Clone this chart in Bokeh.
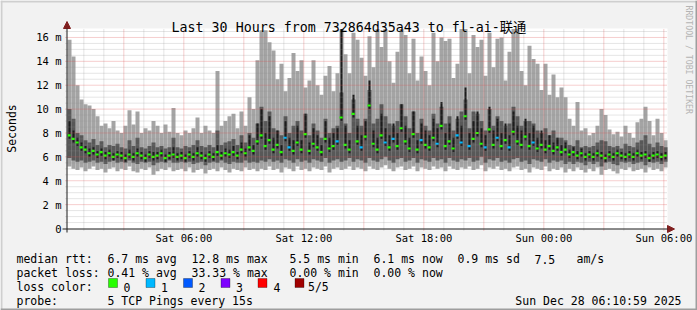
import math
from bokeh.plotting import figure
from bokeh.models import (ColumnDataSource, FixedTicker, Label, BoxAnnotation,
                          Arrow, NormalHead, Range1d, LinearAxis)
from bokeh.embed import file_html
from bokeh.resources import INLINE

# ---------------- data ----------------
T_START = 11 / 60.0          # Sat 00:11 (hours since Sat 00:00)
STEP = 0.2                   # 12 minutes per column
SPAN_H = 30                  # hours shown
Y_MAX = 16.75                # top of the value axis (ms)

hi = [15.8, 14.4, 12.0, 10.8, 10.4, 10.3, 10.0, 9.4, 8.6, 8.8,
      8.4, 9.0, 8.2, 8.0, 8.6, 9.9, 8.7, 9.8, 8.0, 8.4,
      8.2, 9.0, 8.6, 8.0, 8.7, 8.1, 10.1, 8.0, 7.8, 8.2,
      8.0, 8.4, 9.3, 8.0, 8.6, 8.2, 8.0, 13.2, 8.6, 9.0,
      9.4, 9.6, 8.4, 9.8, 8.6, 11.0, 10.0, 14.1, 16.6, 16.6,
      15.6, 14.9, 12.5, 13.8, 11.5, 12.6, 14.7, 13.2, 14.1, 11.8,
      12.4, 14.1, 12.0, 11.2, 12.8, 13.6, 11.5, 13.0, 16.7, 14.6,
      13.0, 16.4, 15.8, 14.3, 12.8, 16.1, 13.5, 16.7, 15.2, 16.7,
      14.0, 12.2, 14.8, 16.7, 16.2, 13.0, 15.9, 12.4, 14.4, 13.2,
      12.0, 16.4, 14.0, 16.0, 15.7, 15.9, 12.6, 13.8, 16.7, 16.7,
      13.0, 16.2, 15.2, 15.8, 12.8, 16.4, 13.5, 15.9, 16.0, 12.4,
      14.8, 16.7, 16.7, 13.2, 12.0, 15.3, 14.2, 13.8, 11.6, 13.8,
      11.2, 12.9, 11.0, 11.8, 11.0, 9.2, 8.6, 10.6, 8.2, 8.4,
      7.8, 8.0, 8.6, 10.0, 9.5, 8.3, 7.9, 8.1, 7.7, 8.6,
      8.0, 7.6, 8.9, 9.2, 10.2, 9.0, 7.8, 9.2, 8.0, 7.4]

lo = [5.2, 5.0, 4.9, 5.1, 4.8, 5.0, 5.2, 4.9, 5.0, 4.7,
      5.0, 5.1, 4.8, 5.0, 4.9, 5.2, 4.8, 4.7, 5.0, 4.9,
      5.1, 4.5, 4.8, 5.0, 4.9, 5.1, 4.8, 4.9, 5.0, 4.8,
      5.1, 4.7, 4.9, 5.0, 4.6, 4.9, 5.0, 4.8, 5.1, 4.9,
      4.7, 5.0, 4.9, 4.8, 5.1, 4.9, 5.0, 4.8, 5.0, 4.9,
      5.2, 4.9, 5.0, 4.7, 5.1, 5.0, 4.8, 5.2, 4.9, 5.0,
      4.8, 5.1, 5.0, 4.9, 5.2, 4.7, 5.0, 5.1, 4.9, 5.0,
      5.2, 4.9, 5.1, 5.0, 4.8, 5.2, 5.0, 4.9, 5.1, 5.3,
      5.0, 4.8, 5.1, 5.2, 4.9, 5.0, 5.2, 4.8, 5.1, 5.0,
      4.9, 5.2, 5.0, 5.1, 4.8, 5.2, 5.0, 4.9, 5.1, 5.0,
      5.2, 4.9, 5.0, 5.3, 4.8, 5.1, 5.0, 5.2, 4.9, 5.0,
      4.8, 5.1, 5.2, 4.9, 5.0, 4.7, 5.1, 5.0, 4.9, 5.2,
      4.8, 5.0, 4.9, 5.1, 4.7, 5.0, 4.8, 5.1, 4.9, 4.7,
      5.0, 4.8, 5.1, 4.5, 4.9, 5.0, 4.8, 4.6, 5.0, 4.9,
      5.1, 4.8, 4.9, 5.0, 4.7, 5.1, 4.9, 5.0, 4.8, 5.1]

q1 = [5.9, 5.7, 5.6, 5.7, 5.5, 5.6, 5.7, 5.5, 5.6, 5.4,
      5.6, 5.7, 5.5, 5.6, 5.5, 5.7, 5.5, 5.4, 5.6, 5.5,
      5.6, 5.3, 5.5, 5.6, 5.5, 5.7, 5.5, 5.5, 5.6, 5.5,
      5.6, 5.4, 5.5, 5.6, 5.3, 5.5, 5.6, 5.5, 5.7, 5.5,
      5.4, 5.6, 5.5, 5.5, 5.7, 5.5, 5.6, 5.5, 5.7, 5.6,
      5.8, 5.6, 5.7, 5.5, 5.8, 5.7, 5.5, 5.8, 5.6, 5.7,
      5.5, 5.8, 5.7, 5.6, 5.9, 5.5, 5.7, 5.8, 5.6, 5.7,
      5.9, 5.6, 5.8, 5.7, 5.5, 5.9, 5.7, 5.6, 5.8, 6.0,
      5.7, 5.5, 5.8, 5.9, 5.6, 5.7, 5.9, 5.5, 5.8, 5.7,
      5.6, 5.9, 5.7, 5.8, 5.5, 5.9, 5.7, 5.6, 5.8, 5.7,
      5.9, 5.6, 5.7, 6.0, 5.5, 5.8, 5.7, 5.9, 5.6, 5.7,
      5.5, 5.8, 5.9, 5.6, 5.7, 5.4, 5.8, 5.7, 5.6, 5.8,
      5.5, 5.7, 5.6, 5.7, 5.4, 5.6, 5.4, 5.6, 5.5, 5.3,
      5.6, 5.4, 5.6, 5.2, 5.5, 5.6, 5.4, 5.3, 5.6, 5.5,
      5.6, 5.4, 5.5, 5.6, 5.3, 5.6, 5.5, 5.6, 5.4, 5.6]

med = [7.8, 7.5, 7.2, 6.8, 6.6, 6.3, 6.5, 6.2, 6.4, 6.1,
       6.3, 6.0, 6.2, 6.1, 5.9, 6.2, 6.0, 6.3, 6.1, 5.9,
       6.2, 6.0, 6.1, 6.3, 5.9, 6.1, 6.2, 6.0, 6.1, 5.9,
       6.2, 6.0, 6.3, 6.1, 5.9, 6.2, 6.0, 6.4, 6.1, 6.3,
       6.2, 6.4, 6.1, 6.6, 6.3, 6.8, 6.5, 7.3, 7.8, 6.9,
       7.4, 6.6, 7.0, 6.4, 7.6, 6.8, 6.5, 7.2, 6.6, 7.9,
       6.5, 7.1, 6.8, 6.4, 7.5, 6.7, 6.9, 7.3, 9.3, 7.0,
       6.6, 9.6, 7.3, 6.8, 7.7, 10.3, 7.1, 6.6, 7.8, 7.2,
       6.8, 7.5, 6.9, 8.4, 7.3, 6.7, 7.9, 6.6, 7.4, 7.0,
       6.8, 7.6, 7.1, 8.6, 6.9, 7.3, 6.7, 7.8, 7.2, 9.4,
       6.9, 7.5, 8.0, 7.1, 6.8, 8.3, 7.0, 7.6, 6.9, 7.4,
       6.8, 8.1, 7.3, 7.0, 7.7, 6.9, 7.2, 6.7, 7.0, 6.6,
       6.9, 6.5, 6.8, 6.4, 6.6, 6.2, 6.4, 6.1, 6.3, 6.0,
       6.2, 6.0, 6.3, 6.1, 5.9, 6.2, 6.0, 6.3, 6.1, 6.0,
       6.2, 6.0, 6.3, 6.1, 6.2, 5.9, 6.1, 6.2, 6.0, 6.1]

q3 = [10.0, 9.2, 8.0, 7.8, 7.4, 7.2, 7.5, 7.0, 7.3, 6.8,
      7.0, 6.9, 7.1, 6.8, 6.7, 7.4, 6.9, 7.6, 6.8, 6.7,
      6.9, 7.2, 6.8, 6.9, 6.7, 6.8, 7.6, 6.8, 6.7, 6.9,
      6.8, 7.0, 7.4, 6.9, 6.8, 7.0, 6.8, 8.2, 7.0, 7.2,
      7.3, 7.5, 7.0, 7.8, 7.2, 8.0, 7.6, 8.8, 10.2, 9.0,
      9.8, 8.4, 8.2, 7.8, 9.4, 8.0, 8.6, 9.0, 8.2, 9.6,
      7.8, 8.8, 8.2, 7.6, 9.2, 8.0, 8.4, 8.6, 11.4, 8.8,
      8.0, 10.8, 9.2, 8.6, 9.2, 11.6, 8.8, 9.2, 10.4, 9.4,
      8.8, 8.6, 9.0, 10.4, 9.4, 8.4, 9.8, 8.0, 9.2, 8.6,
      8.2, 9.6, 8.8, 10.2, 8.8, 9.4, 8.2, 9.2, 9.8, 10.8,
      8.4, 9.8, 9.6, 9.0, 8.2, 10.0, 8.6, 9.4, 9.0, 8.6,
      8.8, 10.2, 9.4, 8.6, 9.0, 9.0, 8.8, 8.2, 8.0, 8.4,
      7.8, 8.2, 7.6, 7.6, 7.4, 7.0, 6.9, 7.4, 6.8, 6.9,
      6.8, 6.9, 7.2, 7.4, 7.3, 6.9, 6.8, 6.9, 6.7, 7.1,
      6.9, 6.8, 7.2, 7.4, 7.8, 7.1, 6.8, 7.2, 6.9, 6.8]

blk = [9.0, 8.2, 7.6, 7.2, 6.9, 6.7, 6.8, 6.5, 6.7, 6.4,
       6.6, 6.3, 6.5, 6.4, 6.2, 6.6, 6.3, 6.7, 6.4, 6.2,
       6.5, 6.4, 6.4, 6.6, 6.2, 6.4, 6.8, 6.3, 6.4, 6.2,
       6.5, 6.3, 6.8, 6.4, 6.2, 6.5, 6.3, 7.0, 6.4, 6.7,
       6.6, 6.9, 6.4, 7.2, 6.7, 7.8, 7.0, 8.8, 10.0, 8.0,
       9.4, 7.6, 8.2, 7.0, 9.0, 7.6, 7.4, 8.6, 7.4, 9.6,
       7.2, 8.4, 7.8, 7.0, 9.0, 7.6, 8.0, 8.4, 16.7, 8.6,
       7.4, 11.2, 8.6, 7.8, 9.0, 12.4, 8.2, 7.6, 9.6, 8.4,
       7.8, 8.8, 8.0, 10.4, 8.6, 7.6, 9.8, 7.4, 8.8, 8.2,
       7.8, 9.2, 8.4, 10.6, 8.0, 8.8, 7.6, 9.4, 8.6, 11.8,
       8.0, 9.0, 9.8, 8.4, 7.8, 10.2, 8.2, 9.2, 8.0, 8.8,
       7.8, 9.8, 8.6, 8.2, 9.2, 8.0, 8.6, 7.6, 8.2, 7.4,
       7.8, 7.2, 7.6, 7.0, 7.2, 6.6, 6.8, 6.5, 6.7, 6.3,
       6.5, 6.3, 6.6, 6.4, 6.2, 6.5, 6.3, 6.6, 6.4, 6.3,
       6.5, 6.3, 6.6, 6.4, 6.5, 6.2, 6.4, 6.5, 6.3, 6.4]

loss = [0] * 150
for k in [54, 55, 67, 73, 79, 81, 88, 92, 97, 98, 100, 104, 107, 110, 116]:
    loss[k] = 1

LOSS_COLORS = ["#26ff00", "#00b8ff", "#0059ff", "#7e00ff", "#ff0000", "#a00000"]
LOSS_LABELS = ["0", "1", "2", "3", "4", "5/5"]

X_TICKS = [6, 12, 18, 24, 30]
X_LABELS = ["Sat 06:00", "Sat 12:00", "Sat 18:00", "Sun 00:00", "Sun 06:00"]
X_MAJOR_GRID = [3, 6, 9, 12, 15, 18, 21, 24, 27, 30]
X_MINOR_GRID = [1, 2, 4, 5, 7, 8, 10, 11, 13, 14, 16, 17, 19, 20, 22, 23, 25, 26, 28, 29]
Y_TICKS = [0, 2, 4, 6, 8, 10, 12, 14, 16]
Y_LABELS = ["0", "2 m", "4 m", "6 m", "8 m", "10 m", "12 m", "14 m", "16 m"]
Y_MAJOR_GRID = [2, 4, 6, 8, 10, 12, 14, 16]
Y_MINOR_GRID = [0.5, 1, 1.5, 2.5, 3, 3.5, 4.5, 5, 5.5, 6.5, 7, 7.5, 8.5, 9, 9.5,
                10.5, 11, 11.5, 12.5, 13, 13.5, 14.5, 15, 15.5, 16.5]

TITLE = "Last 30 Hours from 732864d35a43 to fl-ai-联通"
# legend rows: (text, character column)
LEGEND_RTT = [("median rtt:", 0), ("6.7 ms avg", 13), ("12.8 ms max", 25),
              ("5.5 ms min", 39), ("6.1 ms now", 51), ("0.9 ms sd", 63),
              ("7.5", 74), ("am/s", 80)]
LEGEND_LOSS = [("packet loss:", 0), ("0.41 % avg", 13), ("33.33 % max", 25),
               ("0.00 % min", 39), ("0.00 % now", 51)]
LEGEND_COLOR = [("loss color:", 0)]
LEGEND_PROBE = [("probe:", 0), ("5 TCP Pings every 15s", 13)]
STAMP = "Sun Dec 28 06:10:59 2025"

# ---------------- layout constants (page pixels) ----------------
W, H = 697, 310
PL, PT, PW, PH = 67, 28, 600, 200          # plot area
XPX = PW / SPAN_H                           # px per hour
YPX = PH / Y_MAX                            # px per ms
CHAR = 7.0                                  # legend character advance
LEG_X = 16

# ---------------- build ----------------
n = len(hi)
left = [T_START + STEP * i for i in range(n)]
right = [x + STEP for x in left]
src = ColumnDataSource(dict(
    left=left, right=right, lo=lo, q1=q1, med=med, q3=q3, hi=hi, blk=blk,
    bl=[x + STEP * 0.25 for x in left], br=[x + STEP * 0.75 for x in left],
    blo=[m - 0.3 for m in med],
    mlo=[m - 0.09 for m in med], mhi=[m + 0.09 for m in med],
    mr=[x + STEP * 0.8 for x in left],
    col=[LOSS_COLORS[k] for k in loss],
))

x_range = Range1d(T_START - PL / XPX, T_START + SPAN_H + (W - PL - PW) / XPX)
y_range = Range1d(-(H - PT - PH) / YPX, Y_MAX + PT / YPX)
p = figure(width=W, height=H, output_backend="svg", toolbar_location=None,
           title=None, x_range=x_range, y_range=y_range,
           x_axis_location=None, y_axis_location=None, min_border=0,
           background_fill_color="#f2f2f2", border_fill_color="#f2f2f2",
           outline_line_color=None)
p.grid.visible = False

# white canvas of the graph
p.add_layout(BoxAnnotation(left=T_START, right=T_START + SPAN_H, bottom=0, top=Y_MAX,
                           fill_color="white", fill_alpha=1, line_color=None,
                           level="underlay"))

# smoke
p.quad(left="left", right="right", bottom="lo", top="hi", source=src,
       fill_color="#a4a4a4", line_color=None)
p.quad(left="left", right="right", bottom="q1", top="q3", source=src,
       fill_color="#585858", line_color=None)
p.quad(left="bl", right="br", bottom="blo", top="blk", source=src,
       fill_color="#1c1c1c", line_color=None)
p.quad(left="left", right="mr", bottom="mlo", top="mhi", source=src,
       fill_color="col", line_color=None)

# grid (rrdtool style, dotted, drawn over the graph)
ext_y = 2 / YPX
ext_x = 2 / XPX
p.segment(x0=X_MINOR_GRID, x1=X_MINOR_GRID, y0=[-ext_y] * len(X_MINOR_GRID),
          y1=[Y_MAX] * len(X_MINOR_GRID), line_color="#8f8f8f", line_alpha=0.45,
          line_dash="1 1", line_width=1)
p.segment(x0=[T_START - ext_x] * len(Y_MINOR_GRID), x1=[T_START + SPAN_H] * len(Y_MINOR_GRID),
          y0=Y_MINOR_GRID, y1=Y_MINOR_GRID, line_color="#8f8f8f", line_alpha=0.45,
          line_dash="1 1", line_width=1)
p.segment(x0=X_MAJOR_GRID, x1=X_MAJOR_GRID, y0=[-ext_y] * len(X_MAJOR_GRID),
          y1=[Y_MAX] * len(X_MAJOR_GRID), line_color="#de4f4f", line_alpha=0.55,
          line_dash="1 1", line_width=1)
p.segment(x0=[T_START - ext_x] * len(Y_MAJOR_GRID), x1=[T_START + SPAN_H] * len(Y_MAJOR_GRID),
          y0=Y_MAJOR_GRID, y1=Y_MAJOR_GRID, line_color="#de4f4f", line_alpha=0.55,
          line_dash="1 1", line_width=1)

# axes (fixed at the graph edges)
mono = "DejaVu Sans Mono"
xax = LinearAxis(fixed_location=0, ticker=FixedTicker(ticks=X_TICKS, minor_ticks=[]))
xax.major_label_overrides = dict(zip(X_TICKS, X_LABELS))
yax = LinearAxis(fixed_location=T_START, ticker=FixedTicker(ticks=Y_TICKS, minor_ticks=[]))
yax.major_label_overrides = dict(zip(Y_TICKS, Y_LABELS))
for ax in (xax, yax):
    ax.axis_line_color = None
    ax.major_tick_in = 0
    ax.major_tick_out = 0
    ax.minor_tick_line_color = None
    ax.major_tick_line_color = None
    ax.major_label_text_font = mono
    ax.major_label_text_font_size = "10.5px"
    ax.major_label_text_color = "black"
xax.major_label_standoff = 3
yax.major_label_standoff = 6
p.add_layout(xax, "below")
p.add_layout(yax, "left")

# axis lines with arrows (screen units = page pixels, y up from bottom)
p.add_layout(Arrow(x_start=PL - 5, y_start=H - (PT + PH) - 0.5, x_end=PL + PW + 7,
                   y_end=H - (PT + PH) - 0.5,
                   start_units="screen", end_units="screen",
                   line_color="#1f1f1f", line_width=1,
                   end=NormalHead(size=7, fill_color="#801f1f", line_color="#801f1f")))
p.add_layout(Arrow(x_start=PL - 0.5, y_start=H - (PT + PH) - 4, x_end=PL - 0.5, y_end=H - 21,
                   start_units="screen", end_units="screen",
                   line_color="#1f1f1f", line_width=1,
                   end=NormalHead(size=7, fill_color="#801f1f", line_color="#801f1f")))


def lab(x, y, text, size="11.5px", align="left", baseline="alphabetic",
        angle=0.0, color="black", font=mono):
    p.add_layout(Label(x=x, y=H - y, x_units="screen", y_units="screen",
                       text=text, text_font=font, text_font_size=size,
                       text_align=align, text_baseline=baseline, angle=angle,
                       text_color=color))


def legend_row(items, baseline_y):
    for text, col in items:
        lab(LEG_X + col * CHAR, baseline_y, text)


lab(W / 2, 26.5, TITLE, size="13.3px", align="center",
    font="'DejaVu Sans Mono', 'Noto Sans CJK SC'")
lab(11, PT + PH / 2, "Seconds", align="center", baseline="middle", angle=math.pi / 2)
lab(688.5, 5, "RRDTOOL / TOBI OETIKER", size="8.2px", baseline="middle",
    angle=-math.pi / 2, color="#b4b4b4")
legend_row(LEGEND_RTT, 258.5)
legend_row(LEGEND_LOSS, 272.5)
legend_row(LEGEND_COLOR, 286.5)
legend_row(LEGEND_PROBE, 300.5)
lab(681, 300.5, STAMP, align="right")

sw_left = [108, 145.5, 183, 220.5, 257.5, 294.5]
sw_text = [123, 160.5, 198, 235.5, 273, 307.5]
for c, t, sl, st in zip(LOSS_COLORS, LOSS_LABELS, sw_left, sw_text):
    p.add_layout(BoxAnnotation(left=sl, right=sl + 9, top=H - 278, bottom=H - 287,
                               left_units="screen", right_units="screen",
                               top_units="screen", bottom_units="screen",
                               fill_color=c, fill_alpha=1, line_color="black", line_width=1))
    lab(st, 286.5, t)

# 3D frame of the image
for (l, r, t, b, c) in [(0, 2, 0, H, "#cfcfcf"), (0, W, 0, 2, "#cfcfcf"),
                        (W - 2, W, 0, H, "#9e9e9e"), (0, W, H - 2, H, "#9e9e9e")]:
    p.add_layout(BoxAnnotation(left=l, right=r, top=H - t, bottom=H - b,
                               left_units="screen", right_units="screen",
                               top_units="screen", bottom_units="screen",
                               fill_color=c, fill_alpha=1, line_color=None))

open("out.html", "w").write(file_html(p, INLINE))
